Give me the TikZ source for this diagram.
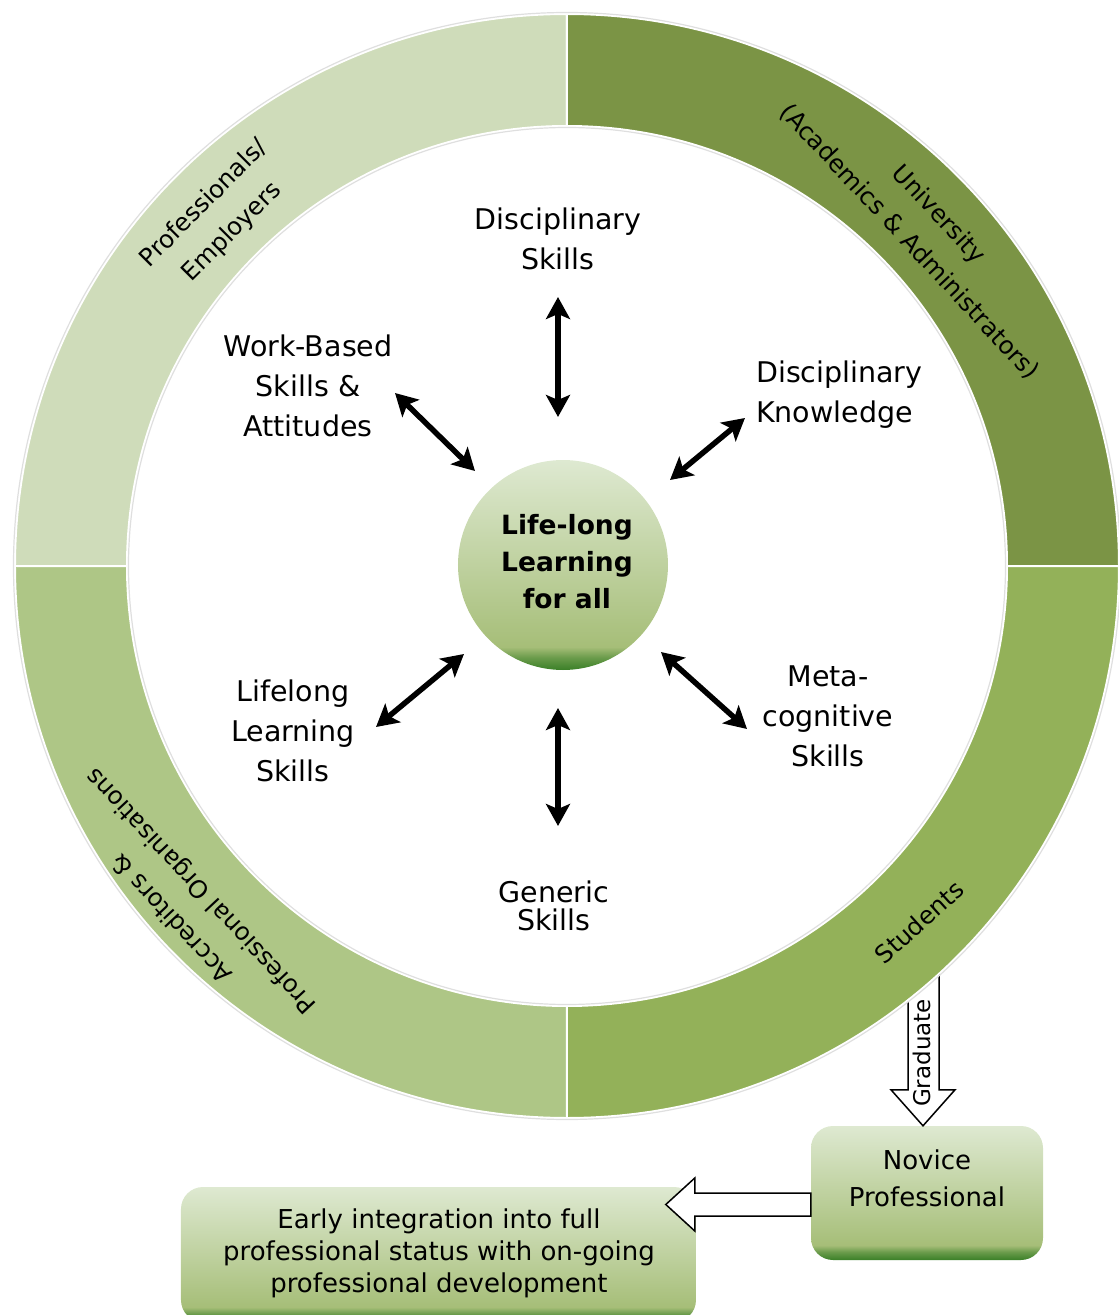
\documentclass[tikz,border=0pt]{standalone}
\usepackage{fontspec}
\setmainfont{DejaVu Sans}
\usetikzlibrary{arrows.meta,calc}

\definecolor{ringA}{HTML}{CFDCBA}
\definecolor{ringB}{HTML}{7B9445}
\definecolor{ringC}{HTML}{93B159}
\definecolor{ringD}{HTML}{AEC686}
\definecolor{hubtop}{HTML}{DEE9D1}
\definecolor{hubmid}{HTML}{A6BE78}
\definecolor{hubdark}{HTML}{3A7F27}

\pgfdeclareverticalshading{greenfade}{100bp}{color(0bp)=(hubdark); color(25bp)=(hubdark); color(28bp)=(hubdark!55!hubmid); color(30.5bp)=(hubmid); color(75bp)=(hubtop); color(100bp)=(hubtop)}

\begin{document}
\begin{tikzpicture}[
		x=1pt, y=1pt,
		skill/.style={inner sep=0pt, align=center, font=\fontsize{28.5}{40}\selectfont},
		ringtext/.style={inner sep=0pt, align=center, font=\fontsize{24.5}{40}\selectfont},
		hub/.style={circle, minimum size=210, inner sep=0pt, align=center, shading=greenfade, font=\fontsize{26.5}{37}\selectfont\bfseries},
		card/.style={rounded corners=22, shading=greenfade, inner sep=0pt},
		link/.style={line width=5.5pt, {Stealth[length=22pt,width=24pt,inset=5pt]}-{Stealth[length=22pt,width=24pt,inset=5pt]}},
		fat/.style={draw=black, fill=white, line width=1.5pt, line join=miter}]
		
		\clip (-567,-749) rectangle (552,566);
		
		% boxes at the bottom
		\node[card, minimum width=232, minimum height=134] (nov) at (360,-627) {};
		\node[card, minimum width=515, minimum height=135] (early) at (-128.5,-688.5) {};
		
		% graduate arrow, its tail goes under the ring
		\draw[fat] ($(nov.north)+(-4,0)$) -- ++(32,36) -- ++(-16,0) -- ++(0,130) -- ++(-31,0) -- ++(0,-130) -- ++(-17,0) -- cycle;
		\node[rotate=90, inner sep=0pt, font=\fontsize{23}{26}\selectfont] (grad) at (355,-487) {Graduate};
		
		% ring
		\filldraw[fill=ringA, draw=white, line width=2pt] (180:552) arc (180:90:552) -- (90:440) arc (90:180:440) -- cycle;
		\filldraw[fill=ringB, draw=white, line width=2pt] (90:552) arc (90:0:552) -- (0:440) arc (0:90:440) -- cycle;
		\filldraw[fill=ringC, draw=white, line width=2pt] (0:552) arc (0:-90:552) -- (-90:440) arc (-90:0:440) -- cycle;
		\filldraw[fill=ringD, draw=white, line width=2pt] (-90:552) arc (-90:-180:552) -- (-180:440) arc (-180:-90:440) -- cycle;
		\draw[gray!25, line width=1.2pt] (0,0) circle (553.5);
		\draw[gray!25, line width=1.2pt] (0,0) circle (438.5);
		
		\node[ringtext, rotate=45] (prof) at (-349,348) {Professionals/\\Employers};
		\node[ringtext, rotate=-47] (univ) at (357,338) {University\\(Academics \& Administrators)};
		\node[ringtext, rotate=42] (stud) at (352,-356) {Students};
		\node[ringtext, rotate=133] (accr) at (-380,-338) {Accreditors \&\\Professional Organisations};
		
		% centre and skills
		\node[hub] (hub) at (-4,1) {};
		\node[inner sep=0pt, align=center, font=\fontsize{26.5}{37}\selectfont\bfseries] (hubtxt) at (0,4) {Life-long\\Learning\\for all};
		
		\node[skill] (dskill) at (-9,327) {Disciplinary\\Skills};
		\node[skill] (wbs) at (-259,180) {Work-Based\\Skills \&\\Attitudes};
		\node[skill, align=left, anchor=west] (dknow) at (189,171) {Disciplinary\\Knowledge};
		\node[skill] (lls) at (-274,-165) {Lifelong\\Learning\\Skills};
		\node[skill] (meta) at (261,-150) {Meta-\\cognitive\\Skills};
		\node[skill, font=\fontsize{28.5}{28}\selectfont] (gen) at (-13,-340) {Generic\\Skills};
		
		\coordinate (dskill-a) at (-9,269);    \coordinate (dskill-b) at (-9,149);
		\coordinate (wbs-a) at (-172,173);     \coordinate (wbs-b) at (-92,95);
		\coordinate (dknow-a) at (178,148);    \coordinate (dknow-b) at (103,86);
		\coordinate (lls-a) at (-191,-161);    \coordinate (lls-b) at (-103,-88);
		\coordinate (meta-a) at (180,-163);    \coordinate (meta-b) at (94,-86);
		\coordinate (gen-a) at (-9,-260);      \coordinate (gen-b) at (-9,-142);
		
		\draw[link] (dskill-a) -- (dskill-b);
		\draw[link] (wbs-a) -- (wbs-b);
		\draw[link] (dknow-a) -- (dknow-b);
		\draw[link] (lls-a) -- (lls-b);
		\draw[link] (meta-a) -- (meta-b);
		\draw[link] (gen-a) -- (gen-b);
		
		% novice -> early integration
		\node[inner sep=0pt, align=center, font=\fontsize{26}{37}\selectfont] (novtxt) at (360,-612) {Novice\\Professional};
		\node[inner sep=0pt, align=center, font=\fontsize{26}{32}\selectfont] (earlytxt) at (-128,-687) {Early integration into full\\professional status with on-going\\professional development};
		\draw[fat] (nov.west) -- ++(-116,0) -- ++(0,15) -- ++(-29,-26.5) -- ++(29,-26.5) -- ++(0,15) -- ++(116,0) -- cycle;
		
\end{tikzpicture}
\end{document}
